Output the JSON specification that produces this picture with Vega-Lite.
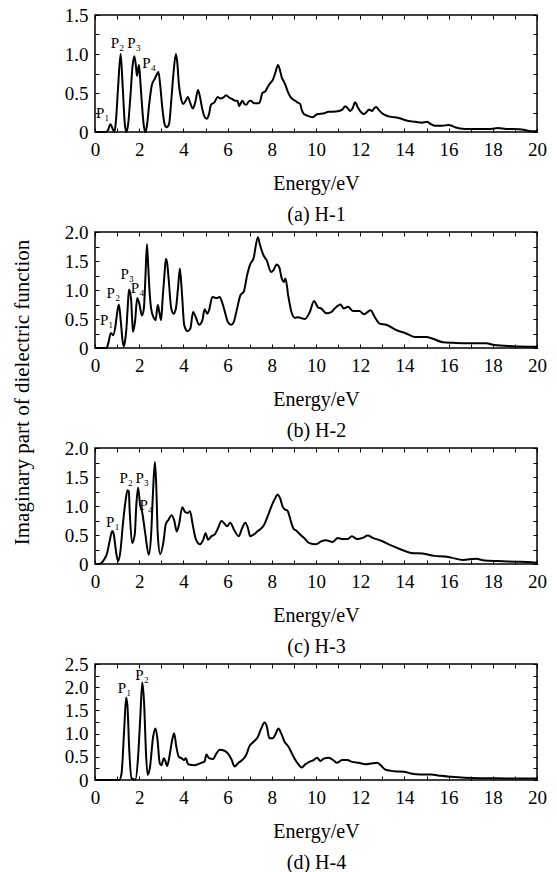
{
  "$schema": "https://vega.github.io/schema/vega-lite/v6.json",
  "padding": {"left": 10, "top": 5, "right": 5, "bottom": 0},
  "background": "white",
  "config": {
    "view": {"stroke": "black", "strokeWidth": 1.5},
    "text": {"font": "Liberation Serif", "fontSize": 15, "color": "black"},
    "line": {"color": "black", "strokeWidth": 2, "interpolate": "monotone"}
  },
  "datasets": {
    "h1": [
      {"e":0,"v":0},{"e":0.5,"v":0},{"e":0.58,"v":0.02},{"e":0.7,"v":0.1},{"e":0.8,"v":0.04},{"e":0.88,"v":0},{"e":0.95,"v":0.15},{"e":1.05,"v":0.6},{"e":1.16,"v":1.0},{"e":1.25,"v":0.6},{"e":1.35,"v":0.1},{"e":1.42,"v":0},{"e":1.5,"v":0.1},{"e":1.6,"v":0.45},{"e":1.7,"v":0.85},{"e":1.78,"v":0.97},{"e":1.85,"v":0.85},{"e":1.9,"v":0.72},{"e":1.95,"v":0.8},{"e":1.99,"v":0.86},{"e":2.04,"v":0.7},{"e":2.1,"v":0.45},{"e":2.2,"v":0.1},{"e":2.27,"v":0},{"e":2.35,"v":0.08},{"e":2.45,"v":0.35},{"e":2.57,"v":0.6},{"e":2.7,"v":0.68},{"e":2.8,"v":0.74},{"e":2.87,"v":0.77},{"e":2.95,"v":0.6},{"e":3.05,"v":0.3},{"e":3.15,"v":0.1},{"e":3.24,"v":0.06},{"e":3.35,"v":0.1},{"e":3.45,"v":0.4},{"e":3.55,"v":0.75},{"e":3.66,"v":1.0},{"e":3.72,"v":0.9},{"e":3.8,"v":0.6},{"e":3.9,"v":0.42},{"e":3.99,"v":0.36},{"e":4.1,"v":0.4},{"e":4.2,"v":0.45},{"e":4.3,"v":0.38},{"e":4.43,"v":0.3},{"e":4.55,"v":0.4},{"e":4.66,"v":0.54},{"e":4.75,"v":0.45},{"e":4.85,"v":0.3},{"e":4.95,"v":0.2},{"e":5.05,"v":0.17},{"e":5.15,"v":0.22},{"e":5.25,"v":0.35},{"e":5.4,"v":0.38},{"e":5.55,"v":0.45},{"e":5.68,"v":0.43},{"e":5.8,"v":0.44},{"e":5.93,"v":0.47},{"e":6.08,"v":0.44},{"e":6.22,"v":0.42},{"e":6.35,"v":0.4},{"e":6.45,"v":0.4},{"e":6.52,"v":0.33},{"e":6.6,"v":0.37},{"e":6.67,"v":0.4},{"e":6.76,"v":0.36},{"e":6.85,"v":0.35},{"e":6.95,"v":0.39},{"e":7.04,"v":0.4},{"e":7.2,"v":0.37},{"e":7.42,"v":0.37},{"e":7.5,"v":0.42},{"e":7.57,"v":0.5},{"e":7.7,"v":0.52},{"e":7.82,"v":0.58},{"e":7.94,"v":0.63},{"e":8.05,"v":0.67},{"e":8.15,"v":0.75},{"e":8.28,"v":0.86},{"e":8.38,"v":0.78},{"e":8.45,"v":0.7},{"e":8.54,"v":0.65},{"e":8.62,"v":0.6},{"e":8.72,"v":0.52},{"e":8.84,"v":0.45},{"e":8.95,"v":0.42},{"e":9.06,"v":0.4},{"e":9.15,"v":0.38},{"e":9.28,"v":0.36},{"e":9.36,"v":0.28},{"e":9.45,"v":0.23},{"e":9.6,"v":0.21},{"e":9.85,"v":0.19},{"e":10.07,"v":0.23},{"e":10.37,"v":0.24},{"e":10.55,"v":0.26},{"e":10.75,"v":0.26},{"e":11.05,"v":0.27},{"e":11.2,"v":0.29},{"e":11.32,"v":0.33},{"e":11.45,"v":0.3},{"e":11.54,"v":0.27},{"e":11.65,"v":0.3},{"e":11.77,"v":0.38},{"e":11.9,"v":0.31},{"e":12.02,"v":0.26},{"e":12.17,"v":0.23},{"e":12.3,"v":0.26},{"e":12.39,"v":0.29},{"e":12.54,"v":0.27},{"e":12.62,"v":0.3},{"e":12.72,"v":0.32},{"e":12.85,"v":0.28},{"e":12.99,"v":0.24},{"e":13.29,"v":0.2},{"e":13.74,"v":0.18},{"e":14.19,"v":0.14},{"e":14.5,"v":0.13},{"e":14.79,"v":0.12},{"e":15.01,"v":0.13},{"e":15.2,"v":0.1},{"e":15.39,"v":0.08},{"e":15.7,"v":0.08},{"e":15.99,"v":0.09},{"e":16.15,"v":0.08},{"e":16.29,"v":0.06},{"e":16.74,"v":0.04},{"e":17.1,"v":0.04},{"e":17.49,"v":0.04},{"e":17.9,"v":0.04},{"e":18.24,"v":0.05},{"e":18.6,"v":0.04},{"e":18.98,"v":0.04},{"e":19.4,"v":0.03},{"e":19.73,"v":0.01},{"e":20,"v":0.01}
    ],
    "h2": [
      {"e":0,"v":0},{"e":0.52,"v":0},{"e":0.6,"v":0.08},{"e":0.72,"v":0.26},{"e":0.82,"v":0.22},{"e":0.93,"v":0.39},{"e":1.0,"v":0.6},{"e":1.08,"v":0.75},{"e":1.17,"v":0.45},{"e":1.24,"v":0.15},{"e":1.3,"v":0.03},{"e":1.36,"v":0.12},{"e":1.42,"v":0.33},{"e":1.48,"v":0.7},{"e":1.54,"v":1.01},{"e":1.63,"v":0.85},{"e":1.68,"v":0.5},{"e":1.72,"v":0.28},{"e":1.81,"v":0.45},{"e":1.91,"v":0.86},{"e":2.02,"v":0.74},{"e":2.12,"v":0.56},{"e":2.21,"v":0.68},{"e":2.28,"v":1.2},{"e":2.35,"v":1.79},{"e":2.41,"v":1.4},{"e":2.47,"v":0.97},{"e":2.54,"v":0.68},{"e":2.66,"v":0.52},{"e":2.74,"v":0.48},{"e":2.84,"v":0.74},{"e":2.91,"v":0.62},{"e":2.99,"v":0.48},{"e":3.06,"v":0.85},{"e":3.14,"v":1.25},{"e":3.21,"v":1.54},{"e":3.27,"v":1.45},{"e":3.33,"v":1.2},{"e":3.45,"v":0.68},{"e":3.56,"v":0.59},{"e":3.66,"v":0.68},{"e":3.76,"v":1.05},{"e":3.84,"v":1.37},{"e":3.93,"v":0.97},{"e":4.04,"v":0.39},{"e":4.19,"v":0.29},{"e":4.31,"v":0.33},{"e":4.44,"v":0.62},{"e":4.56,"v":0.53},{"e":4.71,"v":0.4},{"e":4.86,"v":0.48},{"e":4.96,"v":0.67},{"e":5.08,"v":0.59},{"e":5.16,"v":0.65},{"e":5.31,"v":0.88},{"e":5.5,"v":0.86},{"e":5.64,"v":0.88},{"e":5.75,"v":0.79},{"e":5.9,"v":0.59},{"e":6.01,"v":0.45},{"e":6.17,"v":0.4},{"e":6.28,"v":0.45},{"e":6.43,"v":0.68},{"e":6.58,"v":0.91},{"e":6.73,"v":0.97},{"e":6.88,"v":1.25},{"e":7.03,"v":1.45},{"e":7.17,"v":1.54},{"e":7.37,"v":1.91},{"e":7.47,"v":1.77},{"e":7.62,"v":1.6},{"e":7.77,"v":1.51},{"e":7.97,"v":1.31},{"e":8.07,"v":1.34},{"e":8.22,"v":1.44},{"e":8.33,"v":1.4},{"e":8.45,"v":1.2},{"e":8.55,"v":1.14},{"e":8.62,"v":1.2},{"e":8.74,"v":0.91},{"e":8.89,"v":0.62},{"e":9.04,"v":0.52},{"e":9.19,"v":0.53},{"e":9.37,"v":0.51},{"e":9.5,"v":0.5},{"e":9.72,"v":0.62},{"e":9.91,"v":0.81},{"e":10.09,"v":0.7},{"e":10.24,"v":0.68},{"e":10.47,"v":0.6},{"e":10.69,"v":0.62},{"e":10.84,"v":0.68},{"e":11.12,"v":0.75},{"e":11.25,"v":0.68},{"e":11.45,"v":0.71},{"e":11.67,"v":0.64},{"e":11.97,"v":0.64},{"e":12.17,"v":0.58},{"e":12.47,"v":0.65},{"e":12.65,"v":0.54},{"e":12.88,"v":0.42},{"e":13.18,"v":0.4},{"e":13.63,"v":0.31},{"e":14.08,"v":0.25},{"e":14.46,"v":0.19},{"e":14.99,"v":0.19},{"e":15.29,"v":0.16},{"e":15.74,"v":0.1},{"e":16.19,"v":0.09},{"e":16.8,"v":0.08},{"e":17.7,"v":0.08},{"e":18.07,"v":0.05},{"e":18.9,"v":0.03},{"e":20,"v":0.02}
    ],
    "h3": [
      {"e":0,"v":0},{"e":0.2,"v":0},{"e":0.3,"v":0.02},{"e":0.4,"v":0.07},{"e":0.55,"v":0.19},{"e":0.66,"v":0.39},{"e":0.78,"v":0.57},{"e":0.85,"v":0.51},{"e":0.96,"v":0.19},{"e":1.05,"v":0.05},{"e":1.15,"v":0.22},{"e":1.26,"v":0.68},{"e":1.38,"v":1.08},{"e":1.47,"v":1.27},{"e":1.53,"v":1.25},{"e":1.57,"v":0.91},{"e":1.68,"v":0.36},{"e":1.8,"v":0.51},{"e":1.87,"v":1.02},{"e":1.95,"v":1.32},{"e":2.04,"v":1.02},{"e":2.13,"v":0.9},{"e":2.28,"v":0.51},{"e":2.43,"v":0.16},{"e":2.54,"v":0.51},{"e":2.62,"v":1.2},{"e":2.71,"v":1.76},{"e":2.77,"v":1.37},{"e":2.84,"v":0.51},{"e":2.95,"v":0.17},{"e":3.1,"v":0.39},{"e":3.2,"v":0.68},{"e":3.32,"v":0.76},{"e":3.47,"v":0.84},{"e":3.59,"v":0.74},{"e":3.7,"v":0.56},{"e":3.8,"v":0.68},{"e":3.95,"v":0.98},{"e":4.07,"v":0.9},{"e":4.19,"v":0.88},{"e":4.3,"v":0.91},{"e":4.42,"v":0.68},{"e":4.57,"v":0.42},{"e":4.75,"v":0.34},{"e":4.9,"v":0.42},{"e":5.0,"v":0.53},{"e":5.12,"v":0.42},{"e":5.27,"v":0.48},{"e":5.42,"v":0.51},{"e":5.57,"v":0.62},{"e":5.72,"v":0.74},{"e":5.87,"v":0.69},{"e":5.97,"v":0.65},{"e":6.12,"v":0.71},{"e":6.29,"v":0.59},{"e":6.5,"v":0.48},{"e":6.66,"v":0.62},{"e":6.8,"v":0.71},{"e":6.92,"v":0.62},{"e":7.02,"v":0.48},{"e":7.19,"v":0.51},{"e":7.37,"v":0.57},{"e":7.51,"v":0.61},{"e":7.66,"v":0.68},{"e":7.81,"v":0.82},{"e":8.01,"v":1.02},{"e":8.16,"v":1.14},{"e":8.26,"v":1.2},{"e":8.38,"v":1.13},{"e":8.49,"v":0.99},{"e":8.59,"v":0.94},{"e":8.71,"v":0.92},{"e":8.86,"v":0.74},{"e":8.98,"v":0.61},{"e":9.13,"v":0.57},{"e":9.28,"v":0.51},{"e":9.46,"v":0.45},{"e":9.7,"v":0.36},{"e":10.0,"v":0.34},{"e":10.23,"v":0.39},{"e":10.45,"v":0.41},{"e":10.76,"v":0.38},{"e":10.98,"v":0.45},{"e":11.21,"v":0.43},{"e":11.44,"v":0.43},{"e":11.62,"v":0.48},{"e":11.86,"v":0.43},{"e":12.11,"v":0.45},{"e":12.34,"v":0.49},{"e":12.57,"v":0.45},{"e":12.95,"v":0.4},{"e":13.4,"v":0.32},{"e":13.85,"v":0.25},{"e":14.31,"v":0.19},{"e":14.83,"v":0.18},{"e":15.36,"v":0.14},{"e":15.82,"v":0.13},{"e":16.12,"v":0.11},{"e":16.65,"v":0.07},{"e":17.25,"v":0.09},{"e":17.63,"v":0.06},{"e":18.23,"v":0.05},{"e":18.99,"v":0.04},{"e":19.74,"v":0.03},{"e":20,"v":0.02}
    ],
    "h4": [
      {"e":0,"v":0},{"e":1.1,"v":0},{"e":1.2,"v":0.14},{"e":1.32,"v":1.08},{"e":1.41,"v":1.78},{"e":1.47,"v":1.58},{"e":1.55,"v":0.65},{"e":1.65,"v":0.04},{"e":1.83,"v":0.01},{"e":1.95,"v":0.5},{"e":2.05,"v":1.36},{"e":2.14,"v":2.1},{"e":2.23,"v":1.58},{"e":2.3,"v":0.65},{"e":2.38,"v":0.11},{"e":2.48,"v":0.25},{"e":2.63,"v":0.93},{"e":2.74,"v":1.11},{"e":2.83,"v":0.86},{"e":2.93,"v":0.36},{"e":3.01,"v":0.32},{"e":3.11,"v":0.47},{"e":3.19,"v":0.4},{"e":3.26,"v":0.3},{"e":3.38,"v":0.54},{"e":3.49,"v":0.86},{"e":3.58,"v":1.01},{"e":3.68,"v":0.72},{"e":3.79,"v":0.5},{"e":3.91,"v":0.47},{"e":4.03,"v":0.43},{"e":4.11,"v":0.47},{"e":4.21,"v":0.34},{"e":4.51,"v":0.32},{"e":4.81,"v":0.37},{"e":4.96,"v":0.4},{"e":5.04,"v":0.55},{"e":5.16,"v":0.47},{"e":5.34,"v":0.45},{"e":5.49,"v":0.57},{"e":5.64,"v":0.65},{"e":5.86,"v":0.63},{"e":6.02,"v":0.57},{"e":6.17,"v":0.45},{"e":6.32,"v":0.29},{"e":6.47,"v":0.36},{"e":6.66,"v":0.43},{"e":6.84,"v":0.54},{"e":6.99,"v":0.73},{"e":7.19,"v":0.83},{"e":7.37,"v":0.93},{"e":7.52,"v":1.11},{"e":7.67,"v":1.24},{"e":7.77,"v":1.16},{"e":7.89,"v":0.9},{"e":8.05,"v":0.9},{"e":8.15,"v":0.97},{"e":8.3,"v":1.11},{"e":8.42,"v":1.01},{"e":8.57,"v":0.83},{"e":8.75,"v":0.72},{"e":8.87,"v":0.61},{"e":9.02,"v":0.47},{"e":9.17,"v":0.36},{"e":9.36,"v":0.27},{"e":9.52,"v":0.34},{"e":9.74,"v":0.4},{"e":9.89,"v":0.43},{"e":10.05,"v":0.48},{"e":10.2,"v":0.41},{"e":10.35,"v":0.46},{"e":10.58,"v":0.48},{"e":10.8,"v":0.42},{"e":10.95,"v":0.37},{"e":11.18,"v":0.43},{"e":11.41,"v":0.43},{"e":11.64,"v":0.39},{"e":11.94,"v":0.37},{"e":12.24,"v":0.34},{"e":12.55,"v":0.36},{"e":12.77,"v":0.37},{"e":12.92,"v":0.32},{"e":13.15,"v":0.22},{"e":13.53,"v":0.19},{"e":13.98,"v":0.18},{"e":14.29,"v":0.14},{"e":14.74,"v":0.12},{"e":15.2,"v":0.12},{"e":15.65,"v":0.09},{"e":16.11,"v":0.07},{"e":16.71,"v":0.05},{"e":17.47,"v":0.04},{"e":18.23,"v":0.04},{"e":18.98,"v":0.03},{"e":20,"v":0.03}
    ],
    "p1": [{"e":0.35,"v":0.24,"t":"P₁"},{"e":1.02,"v":1.14,"t":"P₂"},{"e":1.77,"v":1.14,"t":"P₃"},{"e":2.45,"v":0.88,"t":"P₄"}],
    "p2": [{"e":0.53,"v":0.49,"t":"P₁"},{"e":0.83,"v":0.95,"t":"P₂"},{"e":1.46,"v":1.28,"t":"P₃"},{"e":1.93,"v":1.03,"t":"P₄"}],
    "p3": [{"e":0.81,"v":0.73,"t":"P₁"},{"e":1.41,"v":1.48,"t":"P₂"},{"e":2.14,"v":1.48,"t":"P₃"},{"e":2.32,"v":1.02,"t":"P₄"}],
    "p4": [{"e":1.34,"v":1.98,"t":"P₁"},{"e":2.13,"v":2.26,"t":"P₂"}]
  },
  "vconcat": [
    {
      "width": 442, "height": 117,
      "layer": [
        {"data": {"name": "h1"}, "mark": {"type": "line"},
         "encoding": {
           "x": {"field": "e", "type": "quantitative", "scale": {"domain": [0, 20], "nice": false},
                 "axis": {"orient": "bottom", "values": [0,1,2,3,4,5,6,7,8,9,10,11,12,13,14,15,16,17,18,19,20], "labelExpr": "datum.value % 2 === 0 ? datum.label : ''", "title": ["Energy/eV", "(a) H-1"], "titleLineHeight": 31, "titlePadding": 14, "labelFont": "Liberation Serif", "labelFontSize": 19, "labelColor": "black", "titleFont": "Liberation Serif", "titleFontSize": 20, "titleFontWeight": "normal", "titleColor": "black", "tickColor": "black", "tickSize": -4, "grid": false, "domain": false, "labelFlush": false, "labelOverlap": false, "labelPadding": 12}},
           "y": {"field": "v", "type": "quantitative", "scale": {"domain": [0, 1.5], "nice": false},
                 "axis": {"orient": "left", "values": [0,0.25,0.5,0.75,1,1.25,1.5], "labelExpr": "datum.value === 0 ? '0' : ((datum.value * 2) % 1 === 0 ? format(datum.value, '.1f') : '')", "title": null, "labelFont": "Liberation Serif", "labelFontSize": 19, "labelColor": "black", "tickColor": "black", "tickSize": -4, "grid": false, "domain": false, "labelFlush": false, "labelOverlap": false, "labelPadding": 11}}
         }},
        {"data": {"name": "p1"}, "mark": {"type": "text", "align": "center", "baseline": "middle"},
         "encoding": {
           "x": {"field": "e", "type": "quantitative", "axis": {"orient": "top", "labels": false, "title": null, "values": [0,1,2,3,4,5,6,7,8,9,10,11,12,13,14,15,16,17,18,19,20], "tickColor": "black", "tickSize": -4, "grid": false, "domain": false}},
           "y": {"field": "v", "type": "quantitative", "axis": {"orient": "right", "labels": false, "title": null, "values": [0,0.25,0.5,0.75,1,1.25,1.5], "tickColor": "black", "tickSize": -4, "grid": false, "domain": false}},
           "text": {"field": "t"}
         }}
      ],
      "resolve": {"axis": {"x": "independent", "y": "independent"}}
    },
    {
      "width": 442, "height": 116,
      "layer": [
        {"data": {"name": "h2"}, "mark": {"type": "line"},
         "encoding": {
           "x": {"field": "e", "type": "quantitative", "scale": {"domain": [0, 20], "nice": false},
                 "axis": {"orient": "bottom", "values": [0,1,2,3,4,5,6,7,8,9,10,11,12,13,14,15,16,17,18,19,20], "labelExpr": "datum.value % 2 === 0 ? datum.label : ''", "title": ["Energy/eV", "(b) H-2"], "titleLineHeight": 31, "titlePadding": 14, "labelFont": "Liberation Serif", "labelFontSize": 19, "labelColor": "black", "titleFont": "Liberation Serif", "titleFontSize": 20, "titleFontWeight": "normal", "titleColor": "black", "tickColor": "black", "tickSize": -4, "grid": false, "domain": false, "labelFlush": false, "labelOverlap": false, "labelPadding": 12}},
           "y": {"field": "v", "type": "quantitative", "scale": {"domain": [0, 2], "nice": false},
                 "axis": {"orient": "left", "values": [0,0.25,0.5,0.75,1,1.25,1.5,1.75,2], "labelExpr": "datum.value === 0 ? '0' : ((datum.value * 2) % 1 === 0 ? format(datum.value, '.1f') : '')", "title": "Imaginary part of dielectric function", "titleX": -73, "titleY": 160, "titleBaseline": "middle", "titleAngle": 270, "titleFont": "Liberation Serif", "titleFontSize": 21, "titleFontWeight": "normal", "titleColor": "black", "labelFont": "Liberation Serif", "labelFontSize": 19, "labelColor": "black", "tickColor": "black", "tickSize": -4, "grid": false, "domain": false, "labelFlush": false, "labelOverlap": false, "labelPadding": 11}}
         }},
        {"data": {"name": "p2"}, "mark": {"type": "text", "align": "center", "baseline": "middle"},
         "encoding": {
           "x": {"field": "e", "type": "quantitative", "axis": {"orient": "top", "labels": false, "title": null, "values": [0,1,2,3,4,5,6,7,8,9,10,11,12,13,14,15,16,17,18,19,20], "tickColor": "black", "tickSize": -4, "grid": false, "domain": false}},
           "y": {"field": "v", "type": "quantitative", "axis": {"orient": "right", "labels": false, "title": null, "values": [0,0.25,0.5,0.75,1,1.25,1.5,1.75,2], "tickColor": "black", "tickSize": -4, "grid": false, "domain": false}},
           "text": {"field": "t"}
         }}
      ],
      "resolve": {"axis": {"x": "independent", "y": "independent"}}
    },
    {
      "width": 442, "height": 116,
      "layer": [
        {"data": {"name": "h3"}, "mark": {"type": "line"},
         "encoding": {
           "x": {"field": "e", "type": "quantitative", "scale": {"domain": [0, 20], "nice": false},
                 "axis": {"orient": "bottom", "values": [0,1,2,3,4,5,6,7,8,9,10,11,12,13,14,15,16,17,18,19,20], "labelExpr": "datum.value % 2 === 0 ? datum.label : ''", "title": ["Energy/eV", "(c) H-3"], "titleLineHeight": 31, "titlePadding": 14, "labelFont": "Liberation Serif", "labelFontSize": 19, "labelColor": "black", "titleFont": "Liberation Serif", "titleFontSize": 20, "titleFontWeight": "normal", "titleColor": "black", "tickColor": "black", "tickSize": -4, "grid": false, "domain": false, "labelFlush": false, "labelOverlap": false, "labelPadding": 12}},
           "y": {"field": "v", "type": "quantitative", "scale": {"domain": [0, 2], "nice": false},
                 "axis": {"orient": "left", "values": [0,0.25,0.5,0.75,1,1.25,1.5,1.75,2], "labelExpr": "datum.value === 0 ? '0' : ((datum.value * 2) % 1 === 0 ? format(datum.value, '.1f') : '')", "title": null, "labelFont": "Liberation Serif", "labelFontSize": 19, "labelColor": "black", "tickColor": "black", "tickSize": -4, "grid": false, "domain": false, "labelFlush": false, "labelOverlap": false, "labelPadding": 11}}
         }},
        {"data": {"name": "p3"}, "mark": {"type": "text", "align": "center", "baseline": "middle"},
         "encoding": {
           "x": {"field": "e", "type": "quantitative", "axis": {"orient": "top", "labels": false, "title": null, "values": [0,1,2,3,4,5,6,7,8,9,10,11,12,13,14,15,16,17,18,19,20], "tickColor": "black", "tickSize": -4, "grid": false, "domain": false}},
           "y": {"field": "v", "type": "quantitative", "axis": {"orient": "right", "labels": false, "title": null, "values": [0,0.25,0.5,0.75,1,1.25,1.5,1.75,2], "tickColor": "black", "tickSize": -4, "grid": false, "domain": false}},
           "text": {"field": "t"}
         }}
      ],
      "resolve": {"axis": {"x": "independent", "y": "independent"}}
    },
    {
      "width": 442, "height": 116,
      "layer": [
        {"data": {"name": "h4"}, "mark": {"type": "line"},
         "encoding": {
           "x": {"field": "e", "type": "quantitative", "scale": {"domain": [0, 20], "nice": false},
                 "axis": {"orient": "bottom", "values": [0,1,2,3,4,5,6,7,8,9,10,11,12,13,14,15,16,17,18,19,20], "labelExpr": "datum.value % 2 === 0 ? datum.label : ''", "title": ["Energy/eV", "(d) H-4"], "titleLineHeight": 31, "titlePadding": 14, "labelFont": "Liberation Serif", "labelFontSize": 19, "labelColor": "black", "titleFont": "Liberation Serif", "titleFontSize": 20, "titleFontWeight": "normal", "titleColor": "black", "tickColor": "black", "tickSize": -4, "grid": false, "domain": false, "labelFlush": false, "labelOverlap": false, "labelPadding": 12}},
           "y": {"field": "v", "type": "quantitative", "scale": {"domain": [0, 2.5], "nice": false},
                 "axis": {"orient": "left", "values": [0,0.25,0.5,0.75,1,1.25,1.5,1.75,2,2.25,2.5], "labelExpr": "datum.value === 0 ? '0' : ((datum.value * 2) % 1 === 0 ? format(datum.value, '.1f') : '')", "title": null, "labelFont": "Liberation Serif", "labelFontSize": 19, "labelColor": "black", "tickColor": "black", "tickSize": -4, "grid": false, "domain": false, "labelFlush": false, "labelOverlap": false, "labelPadding": 11}}
         }},
        {"data": {"name": "p4"}, "mark": {"type": "text", "align": "center", "baseline": "middle"},
         "encoding": {
           "x": {"field": "e", "type": "quantitative", "axis": {"orient": "top", "labels": false, "title": null, "values": [0,1,2,3,4,5,6,7,8,9,10,11,12,13,14,15,16,17,18,19,20], "tickColor": "black", "tickSize": -4, "grid": false, "domain": false}},
           "y": {"field": "v", "type": "quantitative", "axis": {"orient": "right", "labels": false, "title": null, "values": [0,0.25,0.5,0.75,1,1.25,1.5,1.75,2,2.25,2.5], "tickColor": "black", "tickSize": -4, "grid": false, "domain": false}},
           "text": {"field": "t"}
         }}
      ],
      "resolve": {"axis": {"x": "independent", "y": "independent"}}
    }
  ],
  "bounds": "flush",
  "spacing": 100
}
